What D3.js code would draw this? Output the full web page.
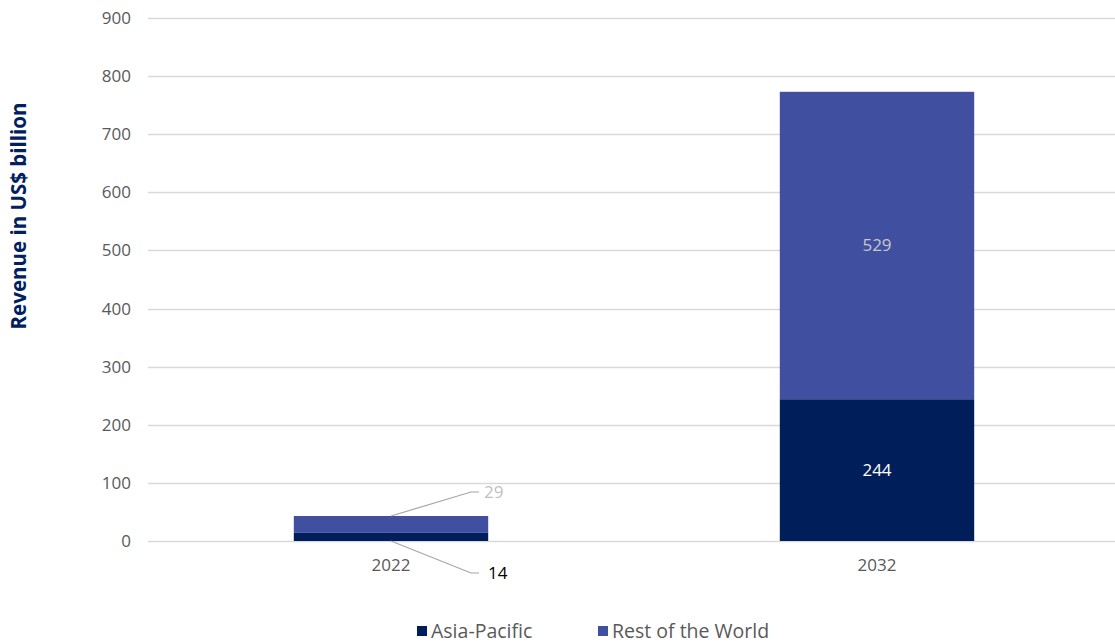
<!DOCTYPE html>
<html>
<head>
<meta charset="utf-8">
<script src="https://cdn.jsdelivr.net/npm/d3@7"></script>
<style>
  body { margin: 0; background: #fff; }
  svg { font-family: "Open Sans", "DejaVu Sans", sans-serif; }
</style>
</head>
<body>
<svg id="chart" width="1115" height="644"></svg>
<script>
const years = ["2022", "2032"];
const seriesNames = ["Asia-Pacific", "Rest of the World"];
const asiaPacific = [14, 244];
const restOfWorld = [29, 529];
const yTicks = [0, 100, 200, 300, 400, 500, 600, 700, 800, 900];

const colors = ["#001e5a", "#414fa0"];

const svg = d3.select("#chart");

const x = d3.scaleBand()
  .domain(years)
  .range([148, 1120])
  .paddingInner(0.6)
  .paddingOuter(0.3);

const y = d3.scaleLinear()
  .domain([0, 900])
  .range([541, 18]);

// gridlines
svg.append("g")
  .selectAll("line")
  .data(yTicks)
  .join("line")
  .attr("x1", 148)
  .attr("x2", 1115)
  .attr("y1", (d) => Math.round(y(d)) + 0.5)
  .attr("y2", (d) => Math.round(y(d)) + 0.5)
  .attr("stroke", "#d9d9d9")
  .attr("stroke-width", 1.5);

// y tick labels
svg.append("g")
  .selectAll("text")
  .data(yTicks)
  .join("text")
  .attr("x", 131)
  .attr("y", (d) => y(d))
  .attr("dy", "0.35em")
  .attr("text-anchor", "end")
  .attr("fill", "#595959")
  .attr("font-size", 17)
  .text((d) => d);

// stacked bars
const rows = years.map((yr, i) => ({ year: yr, "Asia-Pacific": asiaPacific[i], "Rest of the World": restOfWorld[i] }));
const stacked = d3.stack().keys(seriesNames)(rows);

svg.append("g")
  .selectAll("g")
  .data(stacked)
  .join("g")
  .attr("fill", (d, i) => colors[i])
  .selectAll("rect")
  .data((d) => d)
  .join("rect")
  .attr("x", (d) => x(d.data.year))
  .attr("width", x.bandwidth())
  .attr("y", (d) => y(d[1]))
  .attr("height", (d) => y(d[0]) - y(d[1]));

// x labels
svg.append("g")
  .selectAll("text")
  .data(years)
  .join("text")
  .attr("x", (d) => x(d) + x.bandwidth() / 2)
  .attr("y", 571)
  .attr("text-anchor", "middle")
  .attr("fill", "#595959")
  .attr("font-size", 17)
  .text((d) => d);

// inside labels for 2032
const c2 = x("2032") + x.bandwidth() / 2;
svg.append("text")
  .attr("x", c2)
  .attr("y", y(asiaPacific[1] / 2))
  .attr("dy", "0.35em")
  .attr("text-anchor", "middle")
  .attr("fill", "#ffffff")
  .attr("font-size", 17)
  .text(asiaPacific[1]);

svg.append("text")
  .attr("x", c2)
  .attr("y", y(asiaPacific[1] + restOfWorld[1] / 2))
  .attr("dy", "0.35em")
  .attr("text-anchor", "middle")
  .attr("fill", "#c8c8c8")
  .attr("font-size", 17)
  .text(restOfWorld[1]);

// callout labels for 2022
const c1 = x("2022") + x.bandwidth() / 2;
const topY = y(asiaPacific[0] + restOfWorld[0]);
const baseY = y(0);

svg.append("polyline")
  .attr("points", `${c1},${topY} ${c1 + 80},${topY - 24} ${c1 + 88},${topY - 24}`)
  .attr("fill", "none")
  .attr("stroke", "#a6a6a6")
  .attr("stroke-width", 1.2);
svg.append("text")
  .attr("x", c1 + 93)
  .attr("y", topY - 24)
  .attr("dy", "0.35em")
  .attr("fill", "#bfbfbf")
  .attr("font-size", 17)
  .text(restOfWorld[0]);

svg.append("polyline")
  .attr("points", `${c1},${baseY} ${c1 + 80},${baseY + 32} ${c1 + 88},${baseY + 32}`)
  .attr("fill", "none")
  .attr("stroke", "#a6a6a6")
  .attr("stroke-width", 1.2);
svg.append("text")
  .attr("x", c1 + 97)
  .attr("y", baseY + 32)
  .attr("dy", "0.35em")
  .attr("fill", "#000000")
  .attr("font-size", 17)
  .text(asiaPacific[0]);

// y axis title
svg.append("text")
  .attr("transform", "translate(26,216) rotate(-90)")
  .attr("text-anchor", "middle")
  .attr("fill", "#002060")
  .attr("font-size", 20.5)
  .attr("font-weight", "bold")
  .text("Revenue in US$ billion");

// legend
const legendX = [417, 598];
const legend = svg.append("g")
  .selectAll("g")
  .data(seriesNames)
  .join("g")
  .attr("transform", (d, i) => `translate(${legendX[i]},631)`);

legend.append("rect")
  .attr("x", 0)
  .attr("y", -5)
  .attr("width", 10)
  .attr("height", 10)
  .attr("fill", (d, i) => colors[i]);

legend.append("text")
  .attr("x", 14)
  .attr("dy", "0.35em")
  .attr("fill", "#595959")
  .attr("font-size", 19.5)
  .text((d) => d);
</script>
</body>
</html>
